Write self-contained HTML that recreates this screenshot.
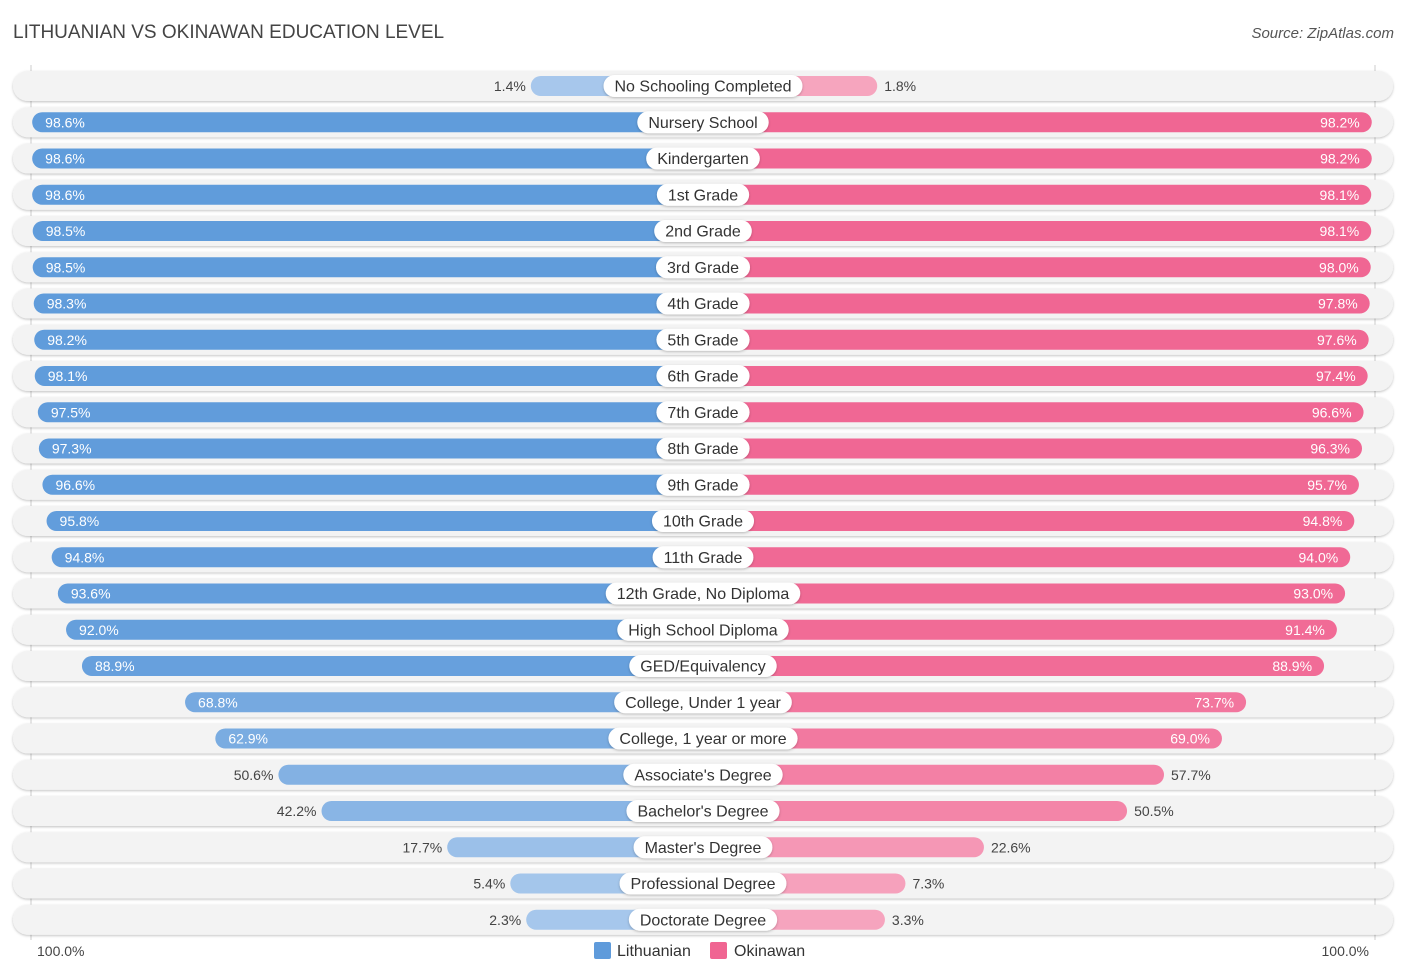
<!DOCTYPE html>
<html><head><meta charset="utf-8"><style>
body{margin:0;background:#fff;font-family:"Liberation Sans",sans-serif;}
#wrap{position:relative;width:1406px;height:975px;overflow:hidden;}
.t{position:absolute;white-space:nowrap;}
</style></head><body>
<div id="wrap">
<div class="t" style="left:13px;top:22px;font-size:19px;color:#444;">LITHUANIAN VS OKINAWAN EDUCATION LEVEL</div>
<div class="t" style="right:12px;top:25px;font-size:15px;color:#555;font-style:italic;">Source: ZipAtlas.com</div>
<svg id="svg" width="1406" height="975" style="position:absolute;left:0;top:0"></svg>
</div>
<script>
const categories=["No Schooling Completed","Nursery School","Kindergarten","1st Grade","2nd Grade","3rd Grade","4th Grade","5th Grade","6th Grade","7th Grade","8th Grade","9th Grade","10th Grade","11th Grade","12th Grade, No Diploma","High School Diploma","GED/Equivalency","College, Under 1 year","College, 1 year or more","Associate's Degree","Bachelor's Degree","Master's Degree","Professional Degree","Doctorate Degree"];
const lithuanian=[1.4,98.6,98.6,98.6,98.5,98.5,98.3,98.2,98.1,97.5,97.3,96.6,95.8,94.8,93.6,92.0,88.9,68.8,62.9,50.6,42.2,17.7,5.4,2.3];
const okinawan=[1.8,98.2,98.2,98.1,98.1,98.0,97.8,97.6,97.4,96.6,96.3,95.7,94.8,94.0,93.0,91.4,88.9,73.7,69.0,57.7,50.5,22.6,7.3,3.3];
const axisLabels=["100.0%","100.0%"];
const NS="http://www.w3.org/2000/svg";
const svg=document.getElementById('svg');
const cx=703,off=165,scale=5.13,y0=86,dy=36.25;
function xl(v){return cx-off-v*scale;}
function xr(v){return cx+off+v*scale;}
function yr(i){return y0+i*dy;}
function mix(a,b,t){return 'rgb('+a.map((c,k)=>Math.round(b[k]+(c-b[k])*t)).join(',')+')';}
function el(tag,attrs,parent){const e=document.createElementNS(NS,tag);for(const k in attrs)e.setAttribute(k,attrs[k]);(parent||svg).appendChild(e);return e;}
const defs=el('defs',{});
const f=el('filter',{id:'sh',x:'-5%',y:'-30%',width:'110%',height:'160%'},defs);
el('feDropShadow',{dx:0,dy:1,stdDeviation:1.2,'flood-color':'#000','flood-opacity':0.25},f);
const g1=el('line',{x1:31,y1:65,x2:31,y2:940,stroke:'#ccc','stroke-width':1});

const g2=el('line',{x1:1375,y1:65,x2:1375,y2:940,stroke:'#ccc','stroke-width':1});

categories.forEach((c,i)=>{
  const y=yr(i);
  const g=el('g',{});
  
  
  const bg=el('rect',{x:13,y:y-15,width:1380,height:30,rx:15,fill:'#f3f3f3',filter:'url(#sh)'},g);
  
  const lv=lithuanian[i],ov=okinawan[i];
  const lx=xl(lv);
  const lb=el('rect',{x:lx,y:y-10,width:cx-lx,height:20,rx:10,fill:mix([95,155,219],[168,200,236],lv/100)},g);
  
  const rx=xr(ov);
  const rb=el('rect',{x:cx,y:y-10,width:rx-cx,height:20,rx:10,fill:mix([240,101,146],[246,166,191],ov/100)},g);
  
  const lt=el('text',{y:y+5,'font-size':14,'font-family':'Liberation Sans,sans-serif'},g);
  
  lt.textContent=lv.toFixed(1)+'%';
  if(lv>60){lt.setAttribute('x',lx+13);lt.setAttribute('fill','#fff');}
  else{lt.setAttribute('x',lx-5);lt.setAttribute('text-anchor','end');lt.setAttribute('fill','#444');}
  const rt=el('text',{y:y+5,'font-size':14,'font-family':'Liberation Sans,sans-serif'},g);
  
  rt.textContent=ov.toFixed(1)+'%';
  if(ov>60){rt.setAttribute('x',rx-12);rt.setAttribute('text-anchor','end');rt.setAttribute('fill','#fff');}
  else{rt.setAttribute('x',rx+7);rt.setAttribute('fill','#444');}
  const lab=el('text',{x:cx,y:y+5.5,'font-size':16,'text-anchor':'middle',fill:'#333','font-family':'Liberation Sans,sans-serif'},g);
  lab.textContent=c;
  
  const w=lab.getComputedTextLength()+22;
  const pill=el('rect',{x:cx-w/2,y:y-11,width:w,height:22,rx:11,fill:'#fff',filter:'url(#sh)'},g);
  
  g.insertBefore(pill,lab);
});
const a1=el('text',{x:37,y:956,'font-size':14,fill:'#444'});a1.textContent=axisLabels[0];

const a2=el('text',{x:1369,y:956,'font-size':14,fill:'#444','text-anchor':'end'});a2.textContent=axisLabels[1];

const l1=el('rect',{x:594,y:942,width:17,height:17,rx:2,fill:'#5f9bdb'});

const lt1=el('text',{x:617,y:956,'font-size':16,fill:'#333'});lt1.textContent='Lithuanian';

const l2=el('rect',{x:710,y:942,width:17,height:17,rx:2,fill:'#f06592'});

const lt2=el('text',{x:734,y:956,'font-size':16,fill:'#333'});lt2.textContent='Okinawan';

</script>
</body></html>
